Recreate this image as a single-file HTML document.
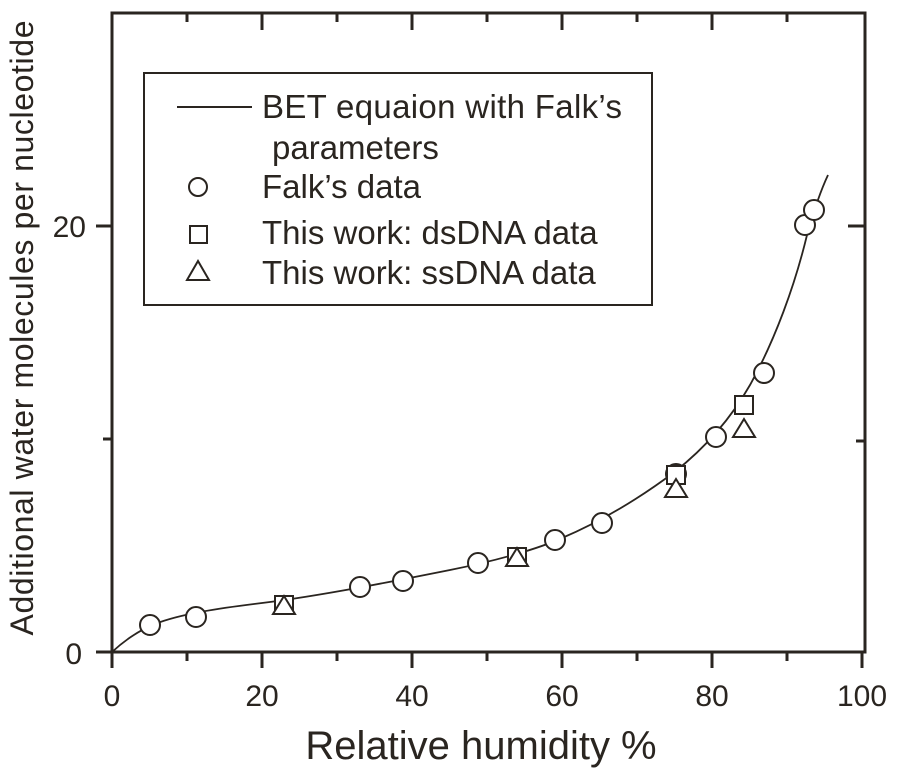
<!DOCTYPE html>
<html><head><meta charset="utf-8"><style>body{margin:0;background:#fff}</style></head><body>
<svg width="902" height="770" xmlns="http://www.w3.org/2000/svg" font-family="Liberation Sans, sans-serif" fill="none" stroke="#2a2520">
<rect x="112" y="13" width="753" height="639" stroke-width="3"/>
<g stroke-width="3">
<line x1="112" y1="652" x2="112" y2="668"/><line x1="262" y1="652" x2="262" y2="668"/><line x1="412" y1="652" x2="412" y2="668"/><line x1="562" y1="652" x2="562" y2="668"/><line x1="712" y1="652" x2="712" y2="668"/><line x1="862" y1="652" x2="862" y2="668"/>
<line x1="187" y1="652" x2="187" y2="661"/><line x1="337" y1="652" x2="337" y2="661"/><line x1="487" y1="652" x2="487" y2="661"/><line x1="637" y1="652" x2="637" y2="661"/><line x1="787" y1="652" x2="787" y2="661"/>
<line x1="187" y1="13" x2="187" y2="22"/><line x1="262" y1="13" x2="262" y2="30"/><line x1="337" y1="13" x2="337" y2="22"/><line x1="412" y1="13" x2="412" y2="30"/><line x1="487" y1="13" x2="487" y2="22"/><line x1="562" y1="13" x2="562" y2="30"/><line x1="637" y1="13" x2="637" y2="22"/><line x1="712" y1="13" x2="712" y2="30"/><line x1="787" y1="13" x2="787" y2="22"/>
<line x1="96" y1="652" x2="112" y2="652"/><line x1="96" y1="226" x2="112" y2="226"/><line x1="103" y1="439" x2="112" y2="439"/>
<line x1="848" y1="226" x2="865" y2="226"/><line x1="856" y1="441" x2="865" y2="441"/>
</g>
<path stroke-width="1.8" d="M112,652 C125,640 140,630 155,624 C180,614 220,608 262,603 C320,596 400,580 450,570 C500,560 540,548 562,538 C600,522 640,498 674.5,472 C705,448 730,420 750,385 C775,340 795,285 807,235 C814,210 820,192 828,175"/>
<g stroke-width="2" fill="#fff">
<circle cx="150" cy="625" r="10"/><circle cx="196" cy="617" r="10"/><circle cx="360" cy="587" r="10"/><circle cx="403" cy="581" r="10"/><circle cx="478" cy="563" r="10"/><circle cx="555" cy="540" r="10"/><circle cx="602" cy="523" r="10"/><circle cx="676" cy="474" r="10"/><circle cx="716" cy="437" r="10"/><circle cx="764" cy="373" r="10"/><circle cx="805" cy="225" r="10"/><circle cx="814" cy="210" r="10"/>
<rect x="275" y="596" width="18" height="18"/><rect x="508" y="548" width="18" height="18"/><rect x="667" y="466" width="18" height="18"/><rect x="735" y="396" width="18" height="18"/>
<polygon points="284,596 273,614 295,614"/><polygon points="517,548 506,566 528,566"/><polygon points="676,479 665,497 687,497"/><polygon points="744,419 733,437 755,437"/>
</g>
<rect x="144" y="73" width="508" height="232" stroke-width="2"/>
<line x1="177" y1="107" x2="252" y2="107" stroke-width="2"/>
<circle cx="198" cy="187" r="9" stroke-width="2"/>
<rect x="190" y="226" width="17" height="17" stroke-width="2"/>
<polygon points="198,261 187,280 209,280" stroke-width="2"/>
<g fill="#2a2520" stroke="none" font-size="33">
<text x="262" y="118" textLength="360">BET equaion with Falk’s</text>
<text x="272" y="159">parameters</text>
<text x="262" y="198">Falk’s data</text>
<text x="262" y="244">This work: dsDNA data</text>
<text x="262" y="284">This work: ssDNA data</text>
<g font-size="30" text-anchor="middle">
<text x="112" y="706">0</text><text x="262" y="706">20</text><text x="412" y="706">40</text><text x="562" y="706">60</text><text x="712" y="706">80</text><text x="862" y="706">100</text>
<text x="82" y="664" text-anchor="end">0</text><text x="86" y="237" text-anchor="end">20</text>
</g>
<text x="481" y="759" font-size="40" text-anchor="middle">Relative humidity %</text>
<text transform="translate(33,328) rotate(-90)" font-size="32" text-anchor="middle" textLength="615">Additional water molecules per nucleotide</text>
</g>
</svg>
</body></html>
